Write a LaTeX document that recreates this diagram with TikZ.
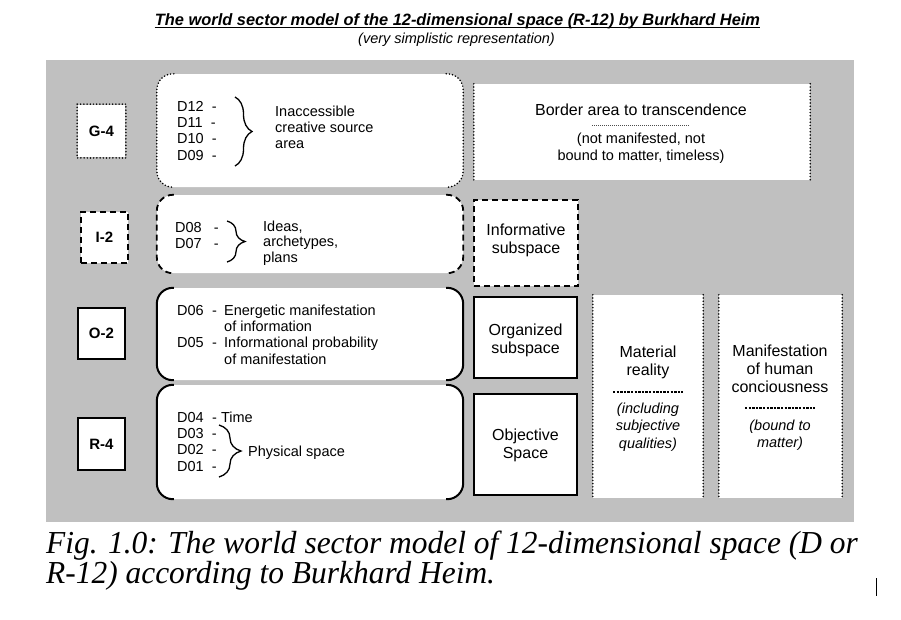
\documentclass[tikz,border=0pt]{standalone}
\usepackage{fontspec}
\setmainfont{Liberation Serif}
\setsansfont{Liberation Sans}
\usetikzlibrary{decorations.pathreplacing}
\definecolor{bggray}{RGB}{192,192,192}
\tikzstyle{lab}=[shape=rectangle,draw,line width=1.8pt,minimum width=47pt,minimum height=52pt,inner sep=0pt,fill=white,font=\sffamily\bfseries\fontsize{15}{18}\selectfont]
\tikzstyle{dotline}=[line width=1.7pt,dash pattern=on 0pt off 3.2pt,line cap=round]
\tikzstyle{dashline}=[line width=1.8pt,dash pattern=on 6pt off 4pt]
\tikzstyle{sect}=[shape=rectangle,fill=white,rounded corners=16pt,inner sep=0pt]
\tikzstyle{brk}=[rounded corners=16pt,line width=2pt]
\tikzstyle{side}=[shape=rectangle,fill=white,inner sep=0pt]
\tikzstyle{txt}=[font=\sffamily\fontsize{14.5}{16.3}\selectfont,align=left,anchor=base west,inner sep=0pt]
\tikzstyle{big}=[font=\sffamily\fontsize{16}{18}\selectfont,align=center,anchor=base,inner sep=0pt]
\tikzstyle{note}=[font=\sffamily\itshape\fontsize{14.5}{17.5}\selectfont,align=center,anchor=base,inner sep=0pt]
\tikzstyle{sep}=[line width=1.3pt,dash pattern=on 2.4pt off 1.2pt]
\tikzstyle{brc}=[line width=1.3pt,decorate]

\begin{document}
\begin{tikzpicture}[x=1pt,y=-1pt]
        \useasboundingbox[fill=white] (0,0) rectangle (901,619);
        \fill[bggray] (46,60) rectangle (854,522);

        % title (base of a node = baseline of its last line)
        \node[font=\sffamily\bfseries\itshape\fontsize{16.4}{19}\selectfont,anchor=base,inner sep=0pt] (T) at (457.5,25)
            {The world sector model of the 12-dimensional space (R-12) by Burkhard Heim};
        \draw[line width=1.1pt] ([yshift=-2.6pt]T.base west) -- ([yshift=-2.6pt]T.base east);
        \node[font=\sffamily\itshape\fontsize{14.5}{17}\selectfont,anchor=base,inner sep=0pt] (ST) at (456.5,43)
            {(very simplistic representation)};

        % sector labels
        \node[lab,draw=none] (G4) at (101.5,131) {G-4};
        \draw[dotline] (G4.north west) rectangle (G4.south east);
        \node[lab,dashline,minimum height=51pt] (I2) at (104.5,237.5) {I-2};
        \node[lab,minimum height=51pt] (O2) at (101.5,333.5) {O-2};
        \node[lab] (R4) at (101.5,444) {R-4};

        % sector boxes
        \node[sect,minimum width=306pt,minimum height=113pt] (Gs) at (310,130.5) {};
        \node[sect,minimum width=306pt,minimum height=78pt] (Is) at (310,234) {};
        \node[sect,minimum width=306pt,minimum height=92pt] (Os) at (310,334) {};
        \node[sect,minimum width=306pt,minimum height=114pt] (Rs) at (310,442) {};
        \foreach \s/\k in {Gs/dotline,Is/dashline,Os/brk,Rs/brk}
        {
            \draw[brk,\k] ([xshift=17pt]\s.north west) -- (\s.north west) -- (\s.south west) -- ([xshift=17pt]\s.south west);
            \draw[brk,\k] ([xshift=-17pt]\s.north east) -- (\s.north east) -- (\s.south east) -- ([xshift=-17pt]\s.south east);
        }

        % dimensions
        \node[txt] (Gd) at (177,160) {D12\ \ -\\D11\ \ -\\D10\ \ -\\D09\ \ -};
        \draw[brc,decoration={brace,amplitude=17pt}] (235,97) -- (235,166);
        \node[txt,font=\sffamily\fontsize{14.5}{16}\selectfont] (Gt) at (275,148.7) {Inaccessible\\creative source\\area};

        \node[txt,font=\sffamily\fontsize{14.5}{15.5}\selectfont] (Id) at (175,248) {D08\ \ \ -\\D07\ \ \ -};
        \draw[brc,decoration={brace,amplitude=18pt}] (227,221) -- (227,262);
        \node[txt,font=\sffamily\fontsize{14.5}{15.5}\selectfont] (It) at (263,262) {Ideas,\\archetypes,\\plans};

        \node[txt] (Od) at (177,364)
            {\makebox[35pt][l]{D06}\makebox[12pt][l]{-}Energetic manifestation\\
             \hspace*{47pt}of information\\
             \makebox[35pt][l]{D05}\makebox[12pt][l]{-}Informational probability\\
             \hspace*{47pt}of manifestation};

        \node[txt] (Rd) at (177,471) {\makebox[35pt][l]{D04}- Time\\D03\ \ -\\D02\ \ -\\D01\ \ -};
        \draw[brc,decoration={brace,amplitude=22pt}] (219,425) -- (219,477);
        \node[txt] (Rt) at (248,456) {Physical space};

        % right column
        \node[side,minimum width=336pt,minimum height=96pt] (Bd) at (642,132) {};
        \draw[dotline] (Bd.north west) -- (Bd.south west);
        \draw[dotline] (Bd.north east) -- (Bd.south east);
        \node[big] (Bt) at (641,115) {Border area to transcendence};
        \draw[line width=0.6pt,dash pattern=on 1pt off 1pt,black!70] ([xshift=-49pt,yshift=-10pt]Bt.base) -- ([xshift=49pt,yshift=-10pt]Bt.base);
        \node[big,font=\sffamily\fontsize{14.5}{17}\selectfont] (Bn) at (641,160.3) {(not manifested, not\\bound to matter, timeless)};

        \node[side,draw,dashline,minimum width=104pt,minimum height=86pt] (Inf) at (526,243) {};
        \node[big] (Infl) at (526,253) {Informative\\subspace};

        \node[side,draw,line width=1.8pt,minimum width=103pt,minimum height=81pt] (Org) at (525.5,337.5) {};
        \node[big] (Orgl) at (525.5,353) {Organized\\subspace};

        \node[side,draw,line width=1.8pt,minimum width=103pt,minimum height=101pt] (Obj) at (525.5,444.5) {};
        \node[big] (Objl) at (525.5,458) {Objective\\Space};

        \node[side,minimum width=110pt,minimum height=203pt] (Mat) at (648,396.5) {};
        \draw[dotline] (Mat.north west) -- (Mat.south west);
        \draw[dotline] (Mat.north east) -- (Mat.south east);
        \node[big] (Matl) at (648,375) {Material\\reality};
        \draw[sep] ([xshift=-35pt,yshift=-17pt]Matl.base) -- ([xshift=35pt,yshift=-17pt]Matl.base);
        \node[note] (Matn) at (648,448) {(including\\subjective\\qualities)};

        \node[side,minimum width=123pt,minimum height=203pt] (Man) at (780.5,396.5) {};
        \draw[dotline] (Man.north west) -- (Man.south west);
        \draw[dotline] (Man.north east) -- (Man.south east);
        \node[big] (Manl) at (780,392) {Manifestation\\of human\\conciousness};
        \draw[sep] ([xshift=-35pt,yshift=-16pt]Manl.base) -- ([xshift=35pt,yshift=-16pt]Manl.base);
        \node[note] (Mann) at (780,447.5) {(bound to\\matter)};

        % caption
        \node[font=\rmfamily\itshape\fontsize{32}{30}\selectfont,align=left,anchor=base west,inner sep=0pt,xscale=0.982] (Cap) at (46,583)
            {Fig. 1.0: The world sector model of 12-dimensional space (D or\\R-12) according to Burkhard Heim.};
        \draw[line width=1pt] (876,578) -- (876,596);
    \end{tikzpicture}
\end{document}
